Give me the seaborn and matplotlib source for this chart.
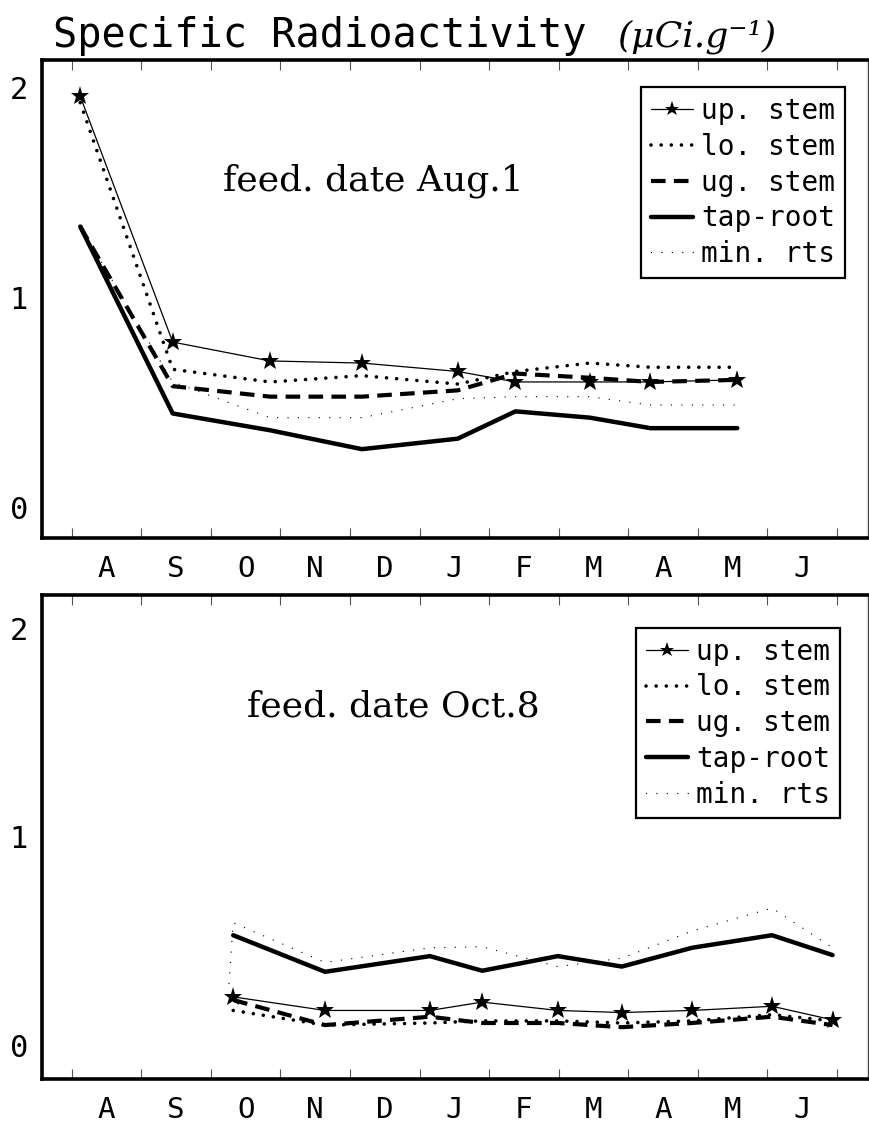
import matplotlib
matplotlib.use("Agg")
import matplotlib.pyplot as plt
import seaborn as sns
import pandas as pd

sns.set_style("white")
plt.rcParams['font.family'] = ['DejaVu Sans Mono', 'DejaVu Sans']
plt.rcParams['text.color'] = 'black'
plt.rcParams['xtick.color'] = 'black'
plt.rcParams['ytick.color'] = 'black'
plt.rcParams['xtick.labelcolor'] = 'black'
plt.rcParams['ytick.labelcolor'] = 'black'

# ---------------- data ----------------
months = ["A", "S", "O", "N", "D", "J", "F", "M", "A", "M", "J"]
series_names = ["up. stem", "lo. stem", "ug. stem", "tap-root", "min. rts"]

# feeding date Aug. 1 (x in months after Aug 1)
x_aug = [0.12, 1.45, 2.85, 4.17, 5.55, 6.38, 7.45, 8.32, 9.57]
up_aug = [1.96, 0.79, 0.70, 0.69, 0.65, 0.60, 0.60, 0.60, 0.61]
lo_aug = [1.93, 0.66, 0.60, 0.63, 0.59, 0.65, 0.69, 0.67, 0.67]
ug_aug = [1.34, 0.58, 0.53, 0.53, 0.56, 0.64, 0.62, 0.60, 0.61]
tap_aug = [1.34, 0.45, 0.37, 0.28, 0.33, 0.46, 0.43, 0.38, 0.38]
min_aug = [1.34, 0.60, 0.43, 0.43, 0.52, 0.53, 0.53, 0.49, 0.49]

# feeding date Oct. 8
x_oct = [2.32, 3.64, 5.15, 5.90, 6.99, 7.91, 8.92, 10.07, 10.94]
up_oct = [0.235, 0.17, 0.17, 0.21, 0.17, 0.16, 0.17, 0.19, 0.125]
lo_oct = [0.17, 0.10, 0.11, 0.12, 0.12, 0.11, 0.12, 0.15, 0.12]
ug_oct = [0.22, 0.10, 0.14, 0.11, 0.11, 0.09, 0.11, 0.14, 0.10]
tap_oct = [0.53, 0.355, 0.43, 0.36, 0.43, 0.38, 0.47, 0.53, 0.435]
x_min_oct = [2.26, 2.32, 3.64, 5.15, 5.90, 6.99, 7.91, 8.92, 10.07, 10.94]
min_oct = [0.30, 0.59, 0.40, 0.47, 0.475, 0.38, 0.42, 0.55, 0.66, 0.47]

panels = [
    ("feed. date Aug.1", [(x_aug, up_aug), (x_aug, lo_aug), (x_aug, ug_aug),
                          (x_aug, tap_aug), (x_aug, min_aug)]),
    ("feed. date Oct.8", [(x_oct, up_oct), (x_oct, lo_oct), (x_oct, ug_oct),
                          (x_oct, tap_oct), (x_min_oct, min_oct)]),
]

# ---------------- styles ----------------
styles = {
    "up. stem": dict(color="black", linewidth=0.9, linestyle="-", marker="*",
                     markersize=14, markeredgewidth=0),
    "lo. stem": dict(color="black", linewidth=2.6, linestyle=(0, (0.01, 2.8)),
                     dash_capstyle="round"),
    "ug. stem": dict(color="black", linewidth=3.0, linestyle=(0, (3.5, 2.0))),
    "tap-root": dict(color="black", linewidth=3.2, linestyle="-"),
    "min. rts": dict(color="black", linewidth=1.0, linestyle=(0, (0.01, 7.5)),
                     dash_capstyle="round"),
}

W, H = 870, 1123
fig = plt.figure(figsize=(W / 100, H / 100), dpi=100)
ax_top = fig.add_axes([42 / W, 1 - 538 / H, 826 / W, 478 / H])
ax_bot = fig.add_axes([42 / W, 1 - 1079 / H, 826 / W, 484 / H])

layout = [
    dict(ax=ax_top, ylim=(-0.143, 2.133), text_xy=(0.219, 0.728),
         leg_anchor=(0.972, 0.943)),
    dict(ax=ax_bot, ylim=(-0.158, 2.158), text_xy=(0.248, 0.748),
         leg_anchor=(0.966, 0.932)),
]

for (label_text, series), lay in zip(panels, layout):
    ax = lay["ax"]
    for name, (xs, ys) in zip(series_names, series):
        df = pd.DataFrame({"x": xs, "y": ys})
        sns.lineplot(data=df, x="x", y="y", ax=ax, label=name,
                     estimator=None, sort=False, **styles[name])
    ax.set_xlim(-0.43, 11.45)
    ax.set_ylim(*lay["ylim"])
    ax.set_xlabel("")
    ax.set_ylabel("")
    ax.set_xticks([i + 0.5 for i in range(len(months))])
    ax.set_xticklabels(months, fontsize=21)
    ax.set_xticks(range(0, 12), minor=True)
    ax.set_yticks([0, 1, 2])
    ax.set_yticklabels(["0", "1", "2"], fontsize=22)
    ax.tick_params(axis="x", which="major", length=0, pad=12)
    ax.tick_params(axis="x", which="minor", direction="in", length=7,
                   width=0.8, top=True, bottom=True, color="#555555")
    ax.tick_params(axis="y", which="major", direction="in", length=7,
                   width=0.8, pad=10, color="#555555")
    for side in ["left", "bottom", "top"]:
        ax.spines[side].set_linewidth(2.6)
        ax.spines[side].set_color("black")
    ax.spines["right"].set_linewidth(1.0)
    ax.spines["right"].set_color("#444444")
    ax.grid(False)
    ax.text(*lay["text_xy"], label_text, transform=ax.transAxes,
            fontsize=26, family="DejaVu Serif", va="baseline", ha="left",
            color="black")
    handles, labels = ax.get_legend_handles_labels()
    leg = ax.legend(handles, labels, loc="upper right",
                    bbox_to_anchor=lay["leg_anchor"], frameon=True,
                    fancybox=False, framealpha=1, edgecolor="black",
                    prop={"family": "DejaVu Sans Mono", "size": 20},
                    handlelength=1.5, handletextpad=0.3, labelspacing=0.28,
                    borderpad=0.35, borderaxespad=0, markerscale=0.8)
    leg.get_frame().set_linewidth(1.6)

fig.text(53 / W, 1 - 47 / H, "Specific Radioactivity", fontsize=29,
         family="DejaVu Sans Mono", va="baseline", ha="left")
fig.text(617 / W, 1 - 47 / H, "(μCi.g⁻¹)", fontsize=26,
         family="DejaVu Serif", style="italic", va="baseline", ha="left")

fig.savefig("out.png", dpi=100)
